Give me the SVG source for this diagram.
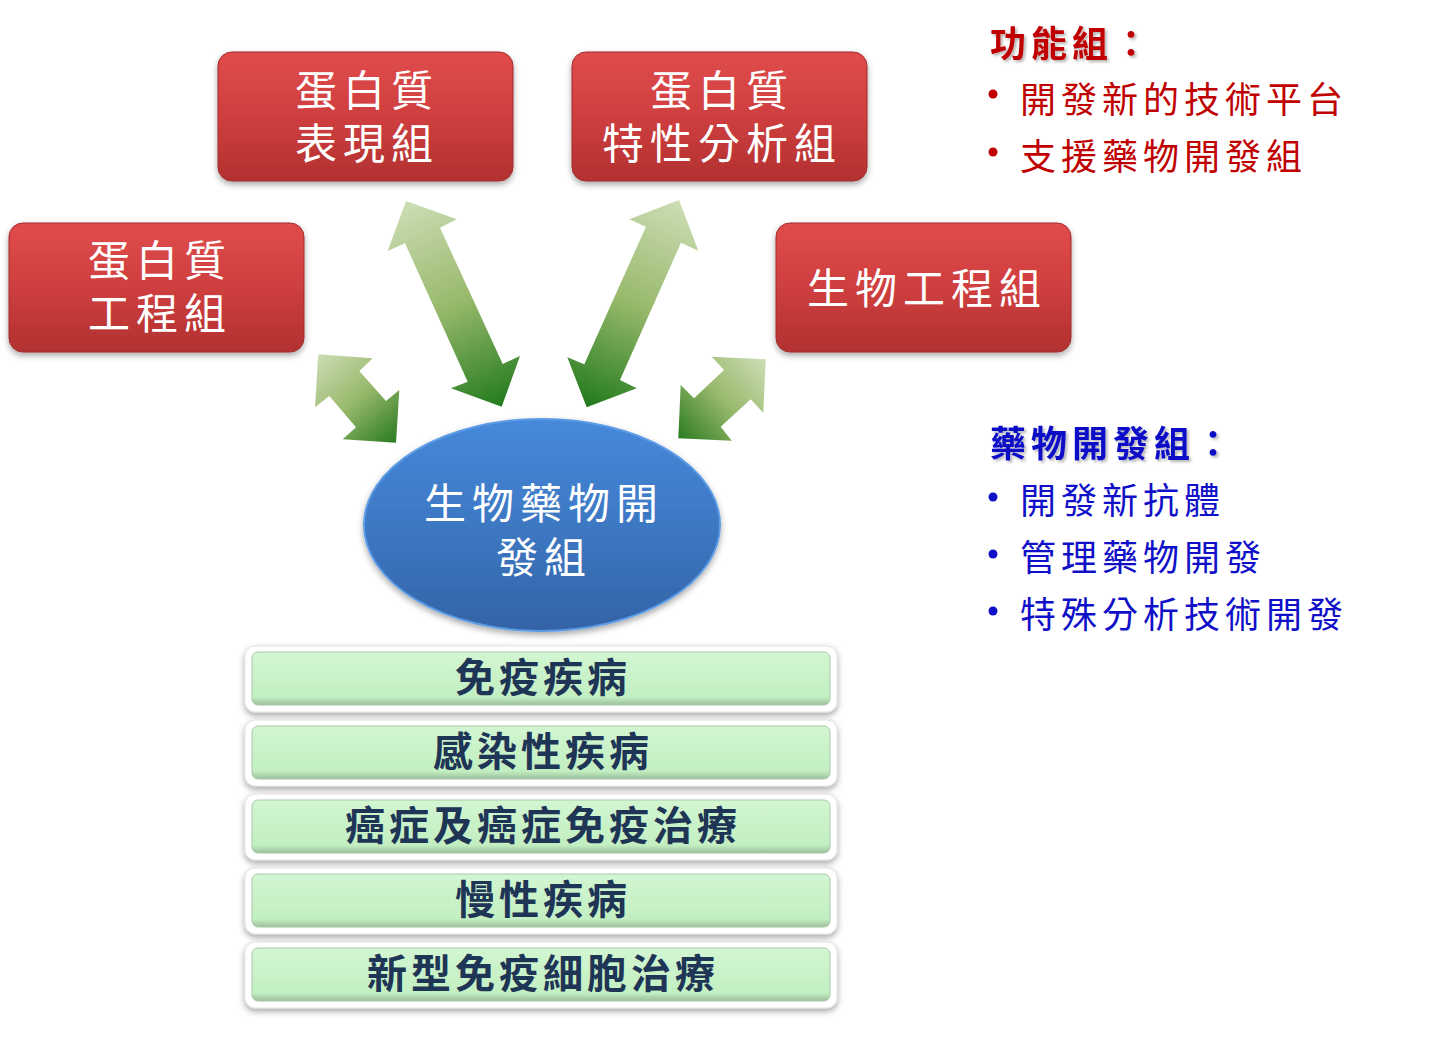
<svg xmlns="http://www.w3.org/2000/svg" width="1434" height="1045" viewBox="0 0 1434 1045">
<defs>
<linearGradient id="redG" x1="0" y1="0" x2="0" y2="1">
<stop offset="0" stop-color="#E04B4B"/>
<stop offset="0.5" stop-color="#CF3F3F"/>
<stop offset="1" stop-color="#B23030"/>
</linearGradient>
<linearGradient id="blueG" x1="0" y1="0" x2="0" y2="1">
<stop offset="0" stop-color="#4689DA"/>
<stop offset="0.6" stop-color="#3B74BE"/>
<stop offset="1" stop-color="#3463A6"/>
</linearGradient>
<linearGradient id="greenBar" x1="0" y1="0" x2="0" y2="1">
<stop offset="0" stop-color="#D2F6D2"/>
<stop offset="0.85" stop-color="#C2EFC2"/>
<stop offset="1" stop-color="#9CBF9C"/>
</linearGradient>
<linearGradient id="a1" gradientUnits="userSpaceOnUse" x1="318" y1="354" x2="396" y2="442">
<stop offset="0" stop-color="#CCDDB5"/><stop offset="0.5" stop-color="#98B96C"/><stop offset="1" stop-color="#2B7B22"/>
</linearGradient>
<linearGradient id="a2" gradientUnits="userSpaceOnUse" x1="406" y1="201" x2="502" y2="407">
<stop offset="0" stop-color="#CCDDB5"/><stop offset="0.5" stop-color="#98B96C"/><stop offset="1" stop-color="#227A1D"/>
</linearGradient>
<linearGradient id="a3" gradientUnits="userSpaceOnUse" x1="679" y1="200" x2="587" y2="407">
<stop offset="0" stop-color="#CCDDB5"/><stop offset="0.5" stop-color="#98B96C"/><stop offset="1" stop-color="#227A1D"/>
</linearGradient>
<linearGradient id="a4" gradientUnits="userSpaceOnUse" x1="765" y1="359" x2="678" y2="438">
<stop offset="0" stop-color="#CCDDB5"/><stop offset="0.5" stop-color="#98B96C"/><stop offset="1" stop-color="#2B7B22"/>
</linearGradient>
<filter id="shadow" x="-10%" y="-10%" width="120%" height="130%">
<feDropShadow dx="0" dy="3" stdDeviation="3" flood-color="#000" flood-opacity="0.35"/>
</filter>
<filter id="tshadow" x="-10%" y="-20%" width="120%" height="140%">
<feDropShadow dx="2" dy="2" stdDeviation="1.5" flood-color="#000" flood-opacity="0.3"/>
</filter>
</defs>
<style>
.red rect{fill:url(#redG);stroke:#A22B2B;stroke-width:1;filter:url(#shadow)}
.wt{fill:#FFFFFF;font-family:"Noto Sans CJK TC","Noto Sans CJK SC",sans-serif;font-size:42px;letter-spacing:6px;text-anchor:middle}
.bar .outer{fill:#FFFFFF;stroke:#E2E2E2;stroke-width:1;filter:url(#shadow)}
.bar .inner{fill:url(#greenBar);stroke:#A8C8A8;stroke-width:1}
.bt{fill:#1F3556;font-family:"Noto Sans CJK TC","Noto Sans CJK SC",sans-serif;font-size:40px;font-weight:bold;letter-spacing:4px;text-anchor:middle}
.rt{fill:#C00000;font-family:"Noto Sans CJK TC","Noto Sans CJK SC",sans-serif;font-size:36px;letter-spacing:5px}
.bl{fill:#1010C8;font-family:"Noto Sans CJK TC","Noto Sans CJK SC",sans-serif;font-size:36px;letter-spacing:5px}
.ttl{font-weight:bold;filter:url(#tshadow)}
</style>
<rect width="1434" height="1045" fill="#FFFFFF"/>

<g id="connectors">
<polygon fill="url(#a1)" points="318.3,354.3 372.7,358.3 359.3,371 386,401 399.3,390 396,442.7 342.7,439.3 356,427.3 329.3,396 315,407.3"/>
<polygon fill="url(#a2)" points="406,201 456.7,219.3 440,227.7 502.7,364 520,356 501.7,406.7 451,388.3 467.7,381.7 405,243.3 387.7,251"/>
<polygon fill="url(#a3)" points="679,200 698.3,250.7 681,242.7 620,380 636.7,388.3 586.7,407.3 567.3,357.3 584.3,364.3 646,226.7 629.3,219.3"/>
<polygon fill="url(#a4)" points="711.7,356.7 765.7,359.3 763.3,412.7 750.7,399.3 720.7,426.7 731.7,440.7 678.3,438.3 680.7,385 694,398.3 724,370"/>
</g>

<g id="node-engineering" class="red">
<rect x="9" y="223" width="295" height="129" rx="14"/>
<text class="wt"><tspan x="160" y="276">蛋白質</tspan><tspan x="160" y="329">工程組</tspan></text>
</g>
<g id="node-expression" class="red">
<rect x="218" y="52" width="295" height="129" rx="14"/>
<text class="wt"><tspan x="367" y="106">蛋白質</tspan><tspan x="367" y="159">表現組</tspan></text>
</g>
<g id="node-characterization" class="red">
<rect x="572" y="52" width="295" height="129" rx="14"/>
<text class="wt"><tspan x="722" y="106">蛋白質</tspan><tspan x="722" y="159">特性分析組</tspan></text>
</g>
<g id="node-bioengineering" class="red">
<rect x="776" y="223" width="295" height="129" rx="14"/>
<text class="wt" x="927" y="304">生物工程組</text>
</g>

<g id="node-biodrug">
<ellipse cx="542" cy="525" rx="178" ry="106" fill="url(#blueG)" stroke="#5C9BE6" stroke-width="2" filter="url(#shadow)"/>
<text class="wt"><tspan x="544" y="519">生物藥物開</tspan><tspan x="544" y="573">發組</tspan></text>
</g>

<g id="bar-immune" class="bar">
<rect class="outer" x="245" y="646" width="592" height="66" rx="10"/>
<rect class="inner" x="252" y="652" width="578" height="53" rx="6"/>
<text class="bt" x="543" y="692">免疫疾病</text>
</g>
<g id="bar-infection" class="bar">
<rect class="outer" x="245" y="720" width="592" height="66" rx="10"/>
<rect class="inner" x="252" y="726" width="578" height="53" rx="6"/>
<text class="bt" x="543" y="766">感染性疾病</text>
</g>
<g id="bar-cancer" class="bar">
<rect class="outer" x="245" y="794" width="592" height="66" rx="10"/>
<rect class="inner" x="252" y="800" width="578" height="53" rx="6"/>
<text class="bt" x="543" y="840">癌症及癌症免疫治療</text>
</g>
<g id="bar-chronic" class="bar">
<rect class="outer" x="245" y="868" width="592" height="66" rx="10"/>
<rect class="inner" x="252" y="874" width="578" height="53" rx="6"/>
<text class="bt" x="543" y="914">慢性疾病</text>
</g>
<g id="bar-celltherapy" class="bar">
<rect class="outer" x="245" y="942" width="592" height="66" rx="10"/>
<rect class="inner" x="252" y="948" width="578" height="53" rx="6"/>
<text class="bt" x="543" y="988">新型免疫細胞治療</text>
</g>

<g id="legend-function">
<text class="rt ttl" x="990" y="57">功能組：</text>
<circle cx="993" cy="94" r="4.5" fill="#C00000"/>
<text class="rt" x="1020" y="113">開發新的技術平台</text>
<circle cx="993" cy="152" r="4.5" fill="#C00000"/>
<text class="rt" x="1020" y="170">支援藥物開發組</text>
</g>

<g id="legend-drug">
<text class="bl ttl" x="990" y="457">藥物開發組：</text>
<circle cx="993" cy="497" r="4.5" fill="#1010C8"/>
<text class="bl" x="1020" y="514">開發新抗體</text>
<circle cx="993" cy="554" r="4.5" fill="#1010C8"/>
<text class="bl" x="1020" y="571">管理藥物開發</text>
<circle cx="993" cy="611" r="4.5" fill="#1010C8"/>
<text class="bl" x="1020" y="628">特殊分析技術開發</text>
</g>
</svg>
